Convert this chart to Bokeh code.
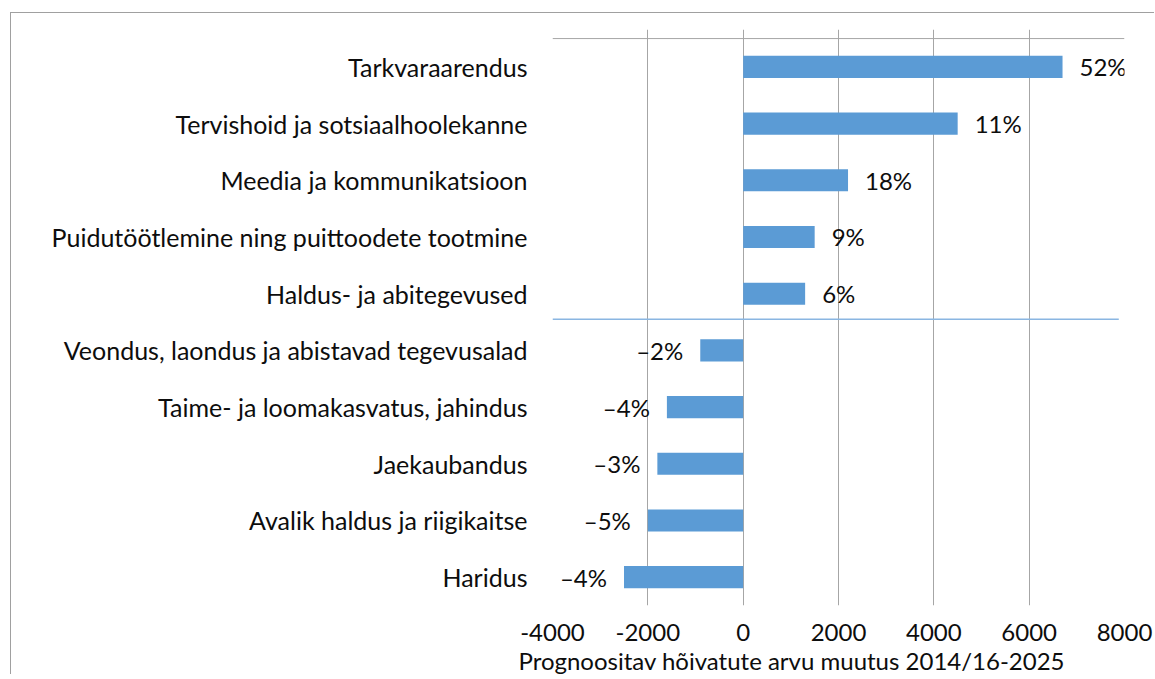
from bokeh.plotting import figure
from bokeh.models import Range1d, FixedTicker, Title, ColumnDataSource
from bokeh.embed import file_html
from bokeh.resources import INLINE
from bokeh.core.properties import value

# ---- data ----
categories = [
    "Tarkvaraarendus",
    "Tervishoid ja sotsiaalhoolekanne",
    "Meedia ja kommunikatsioon",
    "Puidutöötlemine ning puittoodete tootmine",
    "Haldus- ja abitegevused",
    "Veondus, laondus ja abistavad tegevusalad",
    "Taime- ja loomakasvatus, jahindus",
    "Jaekaubandus",
    "Avalik haldus ja riigikaitse",
    "Haridus",
]
change = [6700, 4500, 2200, 1500, 1300, -900, -1600, -1800, -2000, -2500]
pct_labels = ["52%", "11%", "18%", "9%", "6%", "–2%", "–4%", "–3%", "–5%", "–4%"]
x_ticks = [-4000, -2000, 0, 2000, 4000, 6000, 8000]
x_tick_labels = ["-4000", "-2000", "0", "2000", "4000", "6000", "8000"]
x_title = "Prognoositav hõivatute arvu muutus 2014/16-2025"

FONT = "Lato"
TXT = "#0D0D0D"
BAR_COLOR = "#5B9BD5"
GRID_COLOR = "#A6A6A6"

n = len(categories)
ypos = [n - 0.5 - i for i in range(n)]          # category slots, first at top
TICK_EXT = 0.16                                  # outward tick length above top axis line

p = figure(
    x_range=Range1d(x_ticks[0], x_ticks[-1]),
    y_range=Range1d(0, n + TICK_EXT),
    frame_width=572, frame_height=576,
    min_border_left=541, min_border_right=30, min_border_top=16, min_border_bottom=60,
    output_backend="svg", toolbar_location=None,
)
p.outline_line_color = None
p.background_fill_color = "white"
p.border_fill_color = "white"
p.styles = {"margin-left": "10px", "margin-top": "12px",
            "border-left": "1px solid #A0A0A0", "border-top": "1px solid #A0A0A0"}

# vertical grid
p.xgrid.ticker = FixedTicker(ticks=x_ticks)
p.xgrid.grid_line_color = GRID_COLOR
p.xgrid.grid_line_width = 1
p.ygrid.grid_line_color = None

# x axis (labels only)
xa = p.xaxis[0]
xa.ticker = FixedTicker(ticks=x_ticks)
xa.major_label_overrides = dict(zip(x_ticks, x_tick_labels))
xa.axis_line_color = None
xa.major_tick_line_color = None
xa.minor_tick_line_color = None
xa.major_tick_out = 0
xa.major_tick_in = 0
xa.major_label_standoff = 18
xa.major_label_text_font = FONT
xa.major_label_text_font_size = "24px"
xa.major_label_text_color = TXT

# y axis (category names)
ya = p.yaxis[0]
ya.ticker = FixedTicker(ticks=ypos)
ya.major_label_overrides = dict(zip(ypos, categories))
ya.axis_line_color = None
ya.major_tick_line_color = None
ya.minor_tick_line_color = None
ya.major_tick_out = 0
ya.major_tick_in = 0
ya.major_label_standoff = 25
ya.major_label_text_font = FONT
ya.major_label_text_font_size = "25px"
ya.major_label_text_color = TXT

# top value-axis line
p.segment(x0=[x_ticks[0]], x1=[x_ticks[-1]], y0=[n], y1=[n],
          line_color=GRID_COLOR, line_width=1)

# bars
src = ColumnDataSource(dict(y=ypos, val=change, lab=pct_labels))
p.hbar(y="y", left=0, right="val", height=0.39, source=src,
       fill_color=BAR_COLOR, line_color=None)

# value labels
pos = [i for i, v in enumerate(change) if v >= 0]
neg = [i for i, v in enumerate(change) if v < 0]
p.text(x=[change[i] for i in pos], y=[ypos[i] for i in pos],
       text=[pct_labels[i] for i in pos], x_offset=17,
       text_align="left", text_baseline="middle",
       text_font=value(FONT), text_font_size="24px", text_color=TXT)
p.text(x=[change[i] for i in neg], y=[ypos[i] for i in neg],
       text=[pct_labels[i] for i in neg], x_offset=-17,
       text_align="right", text_baseline="middle",
       text_font=value(FONT), text_font_size="24px", text_color=TXT)

# separator between growing and shrinking sectors
sep_y = ypos[neg[0]] + 0.55
p.segment(x0=[x_ticks[0]], x1=[7880], y0=[sep_y], y1=[sep_y],
          line_color="#8AB6E2", line_width=1.5)

# x-axis title
p.add_layout(Title(text=x_title, align="left", offset=-34, standoff=0,
                   text_font=FONT, text_font_size="24px", text_font_style="normal",
                   text_color=TXT), "below")

open("out.html", "w").write(file_html(p, INLINE))
